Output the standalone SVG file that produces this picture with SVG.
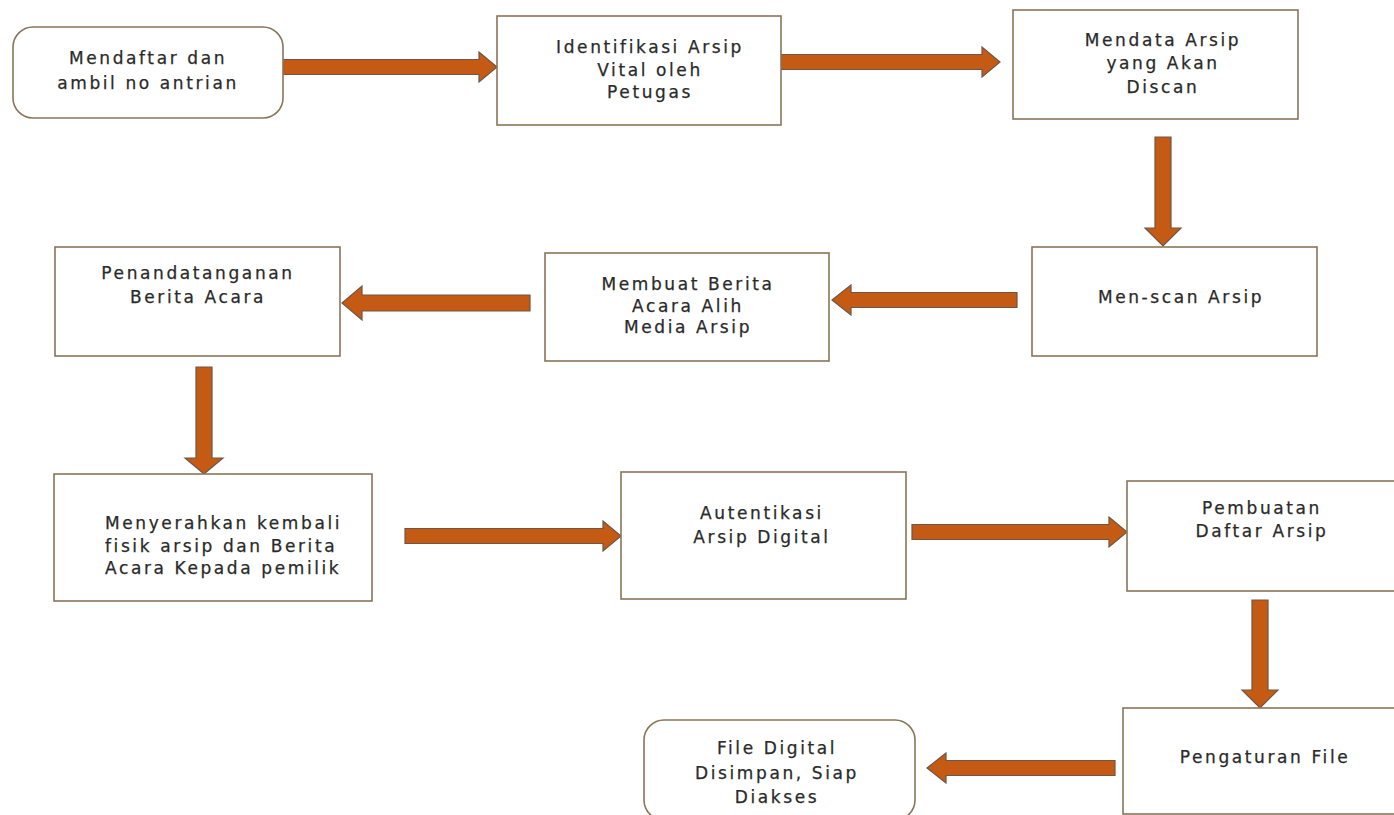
<svg xmlns="http://www.w3.org/2000/svg" width="1394" height="815" viewBox="0 0 1394 815">
<style>
.box{fill:#ffffff;stroke:#8b7458;stroke-width:1.6}
.t{font-family:"DejaVu Sans","Liberation Sans",sans-serif;font-size:17px;letter-spacing:2.6px;fill:#2a2a2a;stroke:#2a2a2a;stroke-width:0.25;text-anchor:middle}
.tl{text-anchor:start}
.arr{fill:#c55a14;stroke:#6f5646;stroke-width:1.2}
</style>
<rect width="1394" height="815" fill="#ffffff"/>
<g id="connectors">
<path class="arr" d="M283,59.5 L479,59.5 L479,52 L497,67 L479,82 L479,74.5 L283,74.5 Z"/>
<path class="arr" d="M781,54.5 L982,54.5 L982,47 L1000,62 L982,77 L982,69.5 L781,69.5 Z"/>
<path class="arr" d="M1155,137 L1155,228 L1145,228 L1163,246 L1181,228 L1171,228 L1171,137 Z"/>
<path class="arr" d="M1017,292.5 L851,292.5 L851,285 L832,300 L851,315 L851,307.5 L1017,307.5 Z"/>
<path class="arr" d="M530,295 L362,295 L362,286 L342,303 L362,320 L362,311 L530,311 Z"/>
<path class="arr" d="M196,367 L196,458 L185,458 L204,474 L223,458 L212,458 L212,367 Z"/>
<path class="arr" d="M405,528.5 L603,528.5 L603,521 L621,536 L603,551 L603,543.5 L405,543.5 Z"/>
<path class="arr" d="M912,524.5 L1109,524.5 L1109,517 L1127,532 L1109,547 L1109,539.5 L912,539.5 Z"/>
<path class="arr" d="M1252,600 L1252,690 L1242,690 L1260,708 L1278,690 L1268,690 L1268,600 Z"/>
<path class="arr" d="M1115,760.5 L946,760.5 L946,753 L927,768 L946,783 L946,775.5 L1115,775.5 Z"/>
</g>
<g id="n1">
<rect class="box" x="13" y="27" width="270" height="91" rx="20"/>
<text class="t" x="148" y="64">Mendaftar dan</text>
<text class="t" x="148" y="89">ambil no antrian</text>
</g>
<g id="n2">
<rect class="box" x="497" y="16" width="284" height="109"/>
<text class="t" x="650" y="53">Identifikasi Arsip</text>
<text class="t" x="650" y="76">Vital oleh</text>
<text class="t" x="650" y="98">Petugas</text>
</g>
<g id="n3">
<rect class="box" x="1013" y="10" width="285" height="109"/>
<text class="t" x="1163" y="46">Mendata Arsip</text>
<text class="t" x="1163" y="69">yang Akan</text>
<text class="t" x="1163" y="93">Discan</text>
</g>
<g id="n4">
<rect class="box" x="1032" y="247" width="285" height="109"/>
<text class="t" x="1181" y="303">Men-scan Arsip</text>
</g>
<g id="n5">
<rect class="box" x="545" y="253" width="284" height="108"/>
<text class="t" x="688" y="290">Membuat Berita</text>
<text class="t" x="688" y="312">Acara Alih</text>
<text class="t" x="688" y="333">Media Arsip</text>
</g>
<g id="n6">
<rect class="box" x="55" y="247" width="285" height="109"/>
<text class="t" x="198" y="279">Penandatanganan</text>
<text class="t" x="198" y="303">Berita Acara</text>
</g>
<g id="n7">
<rect class="box" x="54" y="474" width="318" height="127"/>
<text class="t tl" x="105" y="529">Menyerahkan kembali</text>
<text class="t tl" x="105" y="552">fisik arsip dan Berita</text>
<text class="t tl" x="105" y="574">Acara Kepada pemilik</text>
</g>
<g id="n8">
<rect class="box" x="621" y="472" width="285" height="127"/>
<text class="t" x="762" y="519">Autentikasi</text>
<text class="t" x="762" y="543">Arsip Digital</text>
</g>
<g id="n9">
<rect class="box" x="1127" y="481" width="280" height="110"/>
<text class="t" x="1262" y="514">Pembuatan</text>
<text class="t" x="1262" y="537">Daftar Arsip</text>
</g>
<g id="n10">
<rect class="box" x="1123" y="708" width="285" height="106"/>
<text class="t" x="1265" y="763">Pengaturan File</text>
</g>
<g id="n11">
<rect class="box" x="644" y="720" width="271" height="100" rx="20"/>
<text class="t" x="777" y="754">File Digital</text>
<text class="t" x="777" y="779">Disimpan, Siap</text>
<text class="t" x="777" y="803">Diakses</text>
</g>
</svg>
